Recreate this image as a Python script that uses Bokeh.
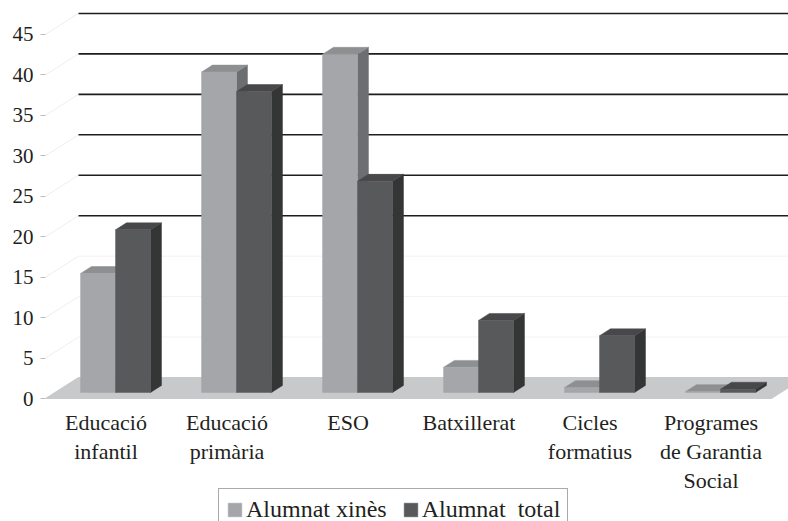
from bokeh.plotting import figure
from bokeh.models import FixedTicker, Legend, LegendItem, Range1d
from bokeh.core.properties import value
from bokeh.embed import file_html
from bokeh.resources import INLINE

# ---------------- data ----------------
categories = ["Educació\ninfantil", "Educació\nprimària", "ESO", "Batxillerat",
              "Cicles\nformatius", "Programes\nde Garantia\nSocial"]
alumnat_xines = [14.7, 39.6, 41.8, 3.1, 0.6, 0.1]
alumnat_total = [20.1, 37.2, 26.1, 8.9, 7.0, 0.4]
series_names = ["Alumnat xinès", "Alumnat  total"]
y_ticks = [0, 5, 10, 15, 20, 25, 30, 35, 40, 45]
grid_strong = [20, 25, 30, 35, 40, 45]
grid_faint = [5, 10, 15]

# ---------------- layout constants ----------------
W, H = 788, 521
LEFT = 45
PX_X = 121.0      # pixels per category
PX_Y = 8.09       # pixels per value unit
Y0_PX = 398       # pixel row of value 0 at the front plane
x_start = -0.5
x_end = x_start + (W - LEFT) / PX_X
y_end = Y0_PX / PX_Y
y_start = y_end - H / PX_Y

DX = 33 / PX_X    # full floor depth, x
DY = 21 / PX_Y    # full floor depth, y
F_FRONT, F_BACK = 0.29, 0.62
BAR_W = 35 / PX_X
FONT_NAME = "'Liberation Serif'"
FONT = value(FONT_NAME)
TXT = "#231f20"

LIGHT = ("#a4a6a9", "#8e8f91", "#6d6e70")   # front, top, side
DARK = ("#58595b", "#48484a", "#343535")

p = figure(width=W, height=H, output_backend="svg", toolbar_location=None,
           x_range=Range1d(x_start, x_end), y_range=Range1d(y_start, y_end),
           x_axis_location=None, min_border_left=LEFT, min_border_right=0,
           min_border_top=0, min_border_bottom=0)
p.outline_line_color = None
p.xgrid.visible = False
p.ygrid.visible = False

# y axis
p.yaxis.ticker = FixedTicker(ticks=y_ticks)
p.yaxis.axis_line_color = None
p.yaxis.minor_tick_line_color = None
p.yaxis.major_tick_in = 0
p.yaxis.major_tick_out = 5
p.yaxis.major_tick_line_color = "#bbbbbb"
p.yaxis.major_label_standoff = 7
p.yaxis.major_label_text_font = FONT_NAME
p.yaxis.major_label_text_font_size = "21px"
p.yaxis.major_label_text_color = TXT

# left wall faint lines
lw = [v for v in y_ticks if v > 0]
p.segment(x0=[x_start] * len(lw), y0=lw, x1=[x_start + DX] * len(lw),
          y1=[v + DY for v in lw], line_color="#eeeeee", line_width=1)

# back wall grid lines
p.segment(x0=[x_start + DX] * len(grid_faint), y0=[v + DY for v in grid_faint],
          x1=[x_end] * len(grid_faint), y1=[v + DY for v in grid_faint],
          line_color="#f2f2f2", line_width=1)
p.segment(x0=[x_start + DX] * len(grid_strong), y0=[v + DY for v in grid_strong],
          x1=[x_end] * len(grid_strong), y1=[v + DY for v in grid_strong],
          line_color="#1e1e1e", line_width=1.6)

# floor
n = len(categories)
fl = x_start + n
p.patch(x=[x_start, fl, fl + DX, x_start + DX], y=[0, 0, DY, DY],
        fill_color="#c8c9cb", line_color="#c8c9cb")

fx, fy = F_FRONT * DX, F_FRONT * DY
sx, sy = (F_BACK - F_FRONT) * DX, (F_BACK - F_FRONT) * DY


def bar_geom(vals, offset):
    lefts, rights, bots, tops = [], [], [], []
    tx, ty, sxs, sys = [], [], [], []
    for i, v in enumerate(vals):
        l = i + offset + fx
        r = l + BAR_W
        b = fy
        t = v + fy
        lefts.append(l); rights.append(r); bots.append(b); tops.append(t)
        tx.append([l, r, r + sx, l + sx]); ty.append([t, t, t + sy, t + sy])
        sxs.append([r, r + sx, r + sx, r]); sys.append([b, b + sy, t + sy, t])
    return lefts, rights, bots, tops, tx, ty, sxs, sys


renderers = []
for vals, off, cols in [(alumnat_xines, -BAR_W, LIGHT), (alumnat_total, 0.0, DARK)]:
    l, r, b, t, tx, ty, sxs, sys = bar_geom(vals, off)
    p.patches(xs=sxs, ys=sys, fill_color=cols[2], line_color=cols[2], line_width=0.5)
    p.patches(xs=tx, ys=ty, fill_color=cols[1], line_color=cols[1], line_width=0.5)
    rr = p.quad(left=l, right=r, bottom=b, top=t, fill_color=cols[0],
                line_color=cols[0], line_width=0.5)
    renderers.append(rr)

# category labels
LABEL_Y = -11 / PX_Y
p.text(x=list(range(n)), y=[LABEL_Y] * n, text=categories, text_align="center",
       text_baseline="top", text_font=FONT, text_font_size="22px",
       text_line_height=1.17, text_color=TXT)

legend = Legend(items=[LegendItem(label=series_names[0], renderers=[renderers[0]]),
                       LegendItem(label=series_names[1], renderers=[renderers[1]])],
                location=(173, -10), orientation="horizontal",
                label_text_font=FONT_NAME, label_text_font_size="24px",
                label_text_color=TXT, glyph_width=17, glyph_height=17,
                label_standoff=3, spacing=15, padding=7, margin=0,
                border_line_color="#555555", border_line_width=1,
                background_fill_color="white", background_fill_alpha=1.0)
p.add_layout(legend)

open("out.html", "w").write(file_html(p, INLINE))
